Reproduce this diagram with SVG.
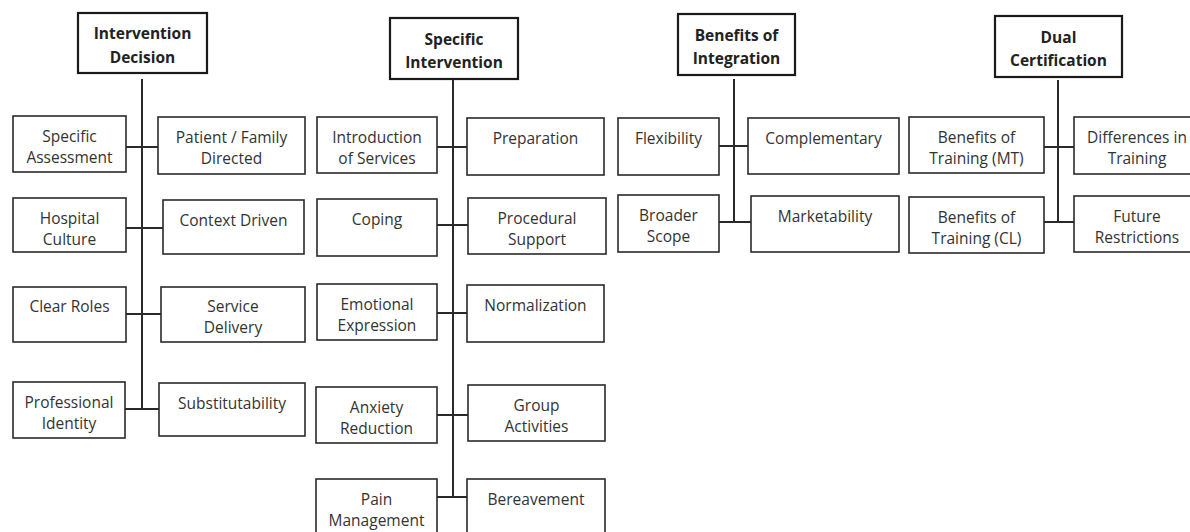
<svg xmlns="http://www.w3.org/2000/svg" width="1190" height="532" viewBox="0 0 1190 532">
<style>
.h{fill:#fff;stroke:#1a1a1a;stroke-width:2.2}
.b{fill:#fff;stroke:#2a2a2a;stroke-width:1.6}
.ht{font-family:"Open Sans",sans-serif;font-weight:bold;font-size:15.5px;fill:#222;text-anchor:middle}
.t{font-family:"Open Sans",sans-serif;font-size:15.5px;fill:#333;text-anchor:middle}
.c{stroke:#2a2a2a;stroke-width:2;fill:none}
</style>
<rect width="1190" height="532" fill="#fff"/>
<g id="connectors">
<path class="c" d="M142 79V409M126 147H158M126 228H163M126 314H161M125 409H159"/>
<path class="c" d="M453 79V497M437 147H467M437 225H468M437 313H467M437 415H468M437 497H467"/>
<path class="c" d="M734 79V222M719 146H748M719 222H751"/>
<path class="c" d="M1058 80V222M1044 147H1074M1044 222H1074"/>
</g>
<g id="intervention-decision"><rect class="h" x="78" y="13" width="129" height="60"/><text class="ht" x="142.5" y="39">Intervention</text><text class="ht" x="142.5" y="63">Decision</text></g>
<g id="specific-assessment"><rect class="b" x="13" y="116" width="113" height="56"/><text class="t" x="69.5" y="142">Specific</text><text class="t" x="69.5" y="163">Assessment</text></g>
<g id="patient-family-directed"><rect class="b" x="158" y="117" width="147" height="57"/><text class="t" x="231.5" y="143">Patient / Family</text><text class="t" x="231.5" y="164">Directed</text></g>
<g id="hospital-culture"><rect class="b" x="13" y="198" width="113" height="54"/><text class="t" x="69.5" y="224">Hospital</text><text class="t" x="69.5" y="245">Culture</text></g>
<g id="context-driven"><rect class="b" x="163" y="200" width="141" height="54"/><text class="t" x="233.5" y="226">Context Driven</text></g>
<g id="clear-roles"><rect class="b" x="13" y="287" width="113" height="55"/><text class="t" x="69.5" y="312">Clear Roles</text></g>
<g id="service-delivery"><rect class="b" x="161" y="287" width="144" height="55"/><text class="t" x="233" y="312">Service</text><text class="t" x="233" y="333">Delivery</text></g>
<g id="professional-identity"><rect class="b" x="13" y="382" width="112" height="56"/><text class="t" x="69" y="408">Professional</text><text class="t" x="69" y="429">Identity</text></g>
<g id="substitutability"><rect class="b" x="159" y="383" width="146" height="53"/><text class="t" x="232" y="409">Substitutability</text></g>

<g id="specific-intervention"><rect class="h" x="390" y="18" width="128" height="61"/><text class="ht" x="454" y="45">Specific</text><text class="ht" x="454" y="68">Intervention</text></g>
<g id="introduction-of-services"><rect class="b" x="317" y="117" width="120" height="56"/><text class="t" x="377" y="143">Introduction</text><text class="t" x="377" y="164">of Services</text></g>
<g id="preparation"><rect class="b" x="467" y="118" width="137" height="57"/><text class="t" x="535.5" y="144">Preparation</text></g>
<g id="coping"><rect class="b" x="317" y="199" width="120" height="57"/><text class="t" x="377" y="225">Coping</text></g>
<g id="procedural-support"><rect class="b" x="468" y="198" width="138" height="56"/><text class="t" x="537" y="224">Procedural</text><text class="t" x="537" y="245">Support</text></g>
<g id="emotional-expression"><rect class="b" x="317" y="284" width="120" height="56"/><text class="t" x="377" y="310">Emotional</text><text class="t" x="377" y="331">Expression</text></g>
<g id="normalization"><rect class="b" x="467" y="285" width="137" height="57"/><text class="t" x="535.5" y="311">Normalization</text></g>
<g id="anxiety-reduction"><rect class="b" x="316" y="387" width="121" height="56"/><text class="t" x="376.5" y="413">Anxiety</text><text class="t" x="376.5" y="434">Reduction</text></g>
<g id="group-activities"><rect class="b" x="468" y="385" width="137" height="56"/><text class="t" x="536.5" y="411">Group</text><text class="t" x="536.5" y="432">Activities</text></g>
<g id="pain-management"><rect class="b" x="316" y="479" width="121" height="62"/><text class="t" x="376.5" y="505">Pain</text><text class="t" x="376.5" y="526">Management</text></g>
<g id="bereavement"><rect class="b" x="467" y="479" width="138" height="62"/><text class="t" x="536" y="505">Bereavement</text></g>

<g id="benefits-of-integration"><rect class="h" x="678" y="14" width="117" height="61"/><text class="ht" x="736.5" y="41">Benefits of</text><text class="ht" x="736.5" y="64">Integration</text></g>
<g id="flexibility"><rect class="b" x="618" y="118" width="101" height="57"/><text class="t" x="668.5" y="144">Flexibility</text></g>
<g id="complementary"><rect class="b" x="748" y="118" width="151" height="56"/><text class="t" x="823.5" y="144">Complementary</text></g>
<g id="broader-scope"><rect class="b" x="618" y="195" width="101" height="57"/><text class="t" x="668.5" y="221">Broader</text><text class="t" x="668.5" y="242">Scope</text></g>
<g id="marketability"><rect class="b" x="751" y="196" width="148" height="56"/><text class="t" x="825" y="222">Marketability</text></g>

<g id="dual-certification"><rect class="h" x="995" y="16" width="127" height="61"/><text class="ht" x="1058.5" y="43">Dual</text><text class="ht" x="1058.5" y="66">Certification</text></g>
<g id="benefits-of-training-mt"><rect class="b" x="909" y="117" width="135" height="56"/><text class="t" x="976.5" y="143">Benefits of</text><text class="t" x="976.5" y="164">Training (MT)</text></g>
<g id="differences-in-training"><rect class="b" x="1074" y="117" width="126" height="57"/><text class="t" x="1137" y="143">Differences in</text><text class="t" x="1137" y="164">Training</text></g>
<g id="benefits-of-training-cl"><rect class="b" x="909" y="197" width="135" height="56"/><text class="t" x="976.5" y="223">Benefits of</text><text class="t" x="976.5" y="244">Training (CL)</text></g>
<g id="future-restrictions"><rect class="b" x="1074" y="196" width="126" height="56"/><text class="t" x="1137" y="222">Future</text><text class="t" x="1137" y="243">Restrictions</text></g>
</svg>
